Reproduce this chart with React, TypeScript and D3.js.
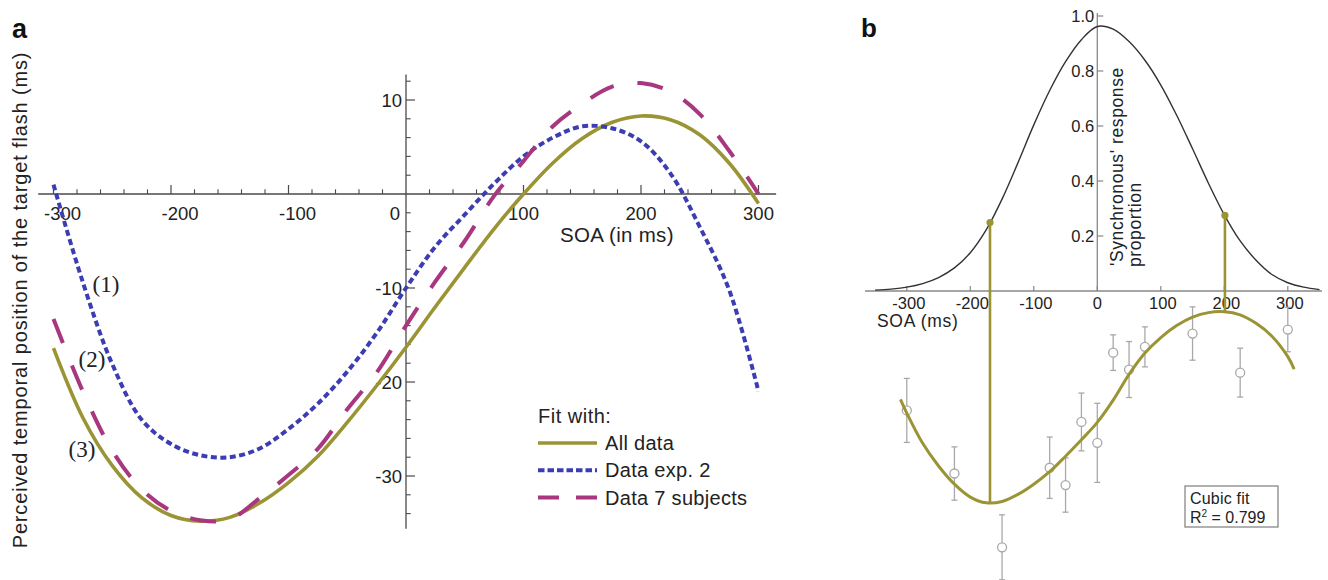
import React from 'react';
import * as d3 from 'd3';

// ---------- Panel a data ----------
const soaA = [-300, -275, -250, -225, -200, -175, -150, -125, -100, -75, -50, -25, 0, 25, 50, 75, 100, 125, 150, 175, 200, 225, 250, 275, 300];
const allData = [-16.4, -23.8, -28.9, -32.3, -34.2, -34.8, -34.4, -32.9, -30.7, -27.9, -24.3, -20.4, -16.3, -12.0, -7.8, -3.7, 0, 3.3, 5.9, 7.6, 8.3, 7.9, 6.3, 3.3, -1.0];
const dataExp2 = [1.0, -9.4, -18.1, -24.0, -26.6, -27.8, -28.0, -27.1, -25.0, -22.3, -18.9, -14.8, -10.0, -5.6, -2.2, 1.1, 4.0, 6.0, 7.2, 7.0, 5.6, 2.2, -3.5, -10.2, -21.0];
const data7Subjects = [-13.3, -21.0, -27.3, -31.4, -33.7, -34.7, -34.6, -32.4, -29.9, -27.1, -22.9, -19.0, -14.0, -9.3, -5.0, -0.2, 3.5, 7.2, 9.6, 11.4, 11.8, 10.9, 8.5, 4.6, 0.0];
const xTickLabelsA = [-300, -200, -100, 100, 200, 300];
const yTickLabelsA = [10, -10, -20, -30];
const legendLabels = ['All data', 'Data exp. 2', 'Data 7 subjects'];
const curveTags = ['(1)', '(2)', '(3)'];

// ---------- Panel b data ----------
const soaGauss = [-350, -325, -300, -275, -250, -225, -200, -175, -150, -125, -100, -75, -50, -25, 0, 25, 50, 75, 100, 125, 150, 175, 200, 225, 250, 275, 300, 325, 350];
const syncProportion = [0.003, 0.007, 0.014, 0.027, 0.049, 0.084, 0.139, 0.222, 0.334, 0.466, 0.604, 0.729, 0.834, 0.914, 0.962, 0.952, 0.907, 0.839, 0.749, 0.639, 0.517, 0.392, 0.277, 0.182, 0.112, 0.060, 0.030, 0.014, 0.005];
const soaFit = [-310, -300, -275, -250, -225, -200, -175, -150, -125, -100, -75, -50, -25, 0, 25, 50, 75, 100, 125, 150, 175, 200, 225, 250, 275, 300, 310];
const cubicFit = [-11.4, -14.5, -21.3, -26.4, -30.5, -33.4, -34.7, -34.4, -32.8, -30.5, -27.7, -24.2, -20.5, -16.6, -11.6, -5.8, -1.0, 2.5, 5.2, 7.1, 8.1, 8.3, 7.6, 5.7, 2.8, -1.8, -4.6];
const pointSOA = [-300, -225, -150, -75, -50, -25, 0, 25, 50, 75, 150, 225, 300];
const pointMean = [-13.9, -28.1, -44.7, -26.8, -30.7, -16.5, -21.2, -0.9, -4.7, 0.4, 3.4, -5.4, 4.3];
const pointErr = [7.2, 6.0, 7.3, 6.9, 6.1, 6.5, 8.9, 4.0, 6.3, 4.5, 6.0, 5.5, 5.0];
const markerSOA = [-169, 201];
const markerProportion = [0.249, 0.275];
const markerFit = [-34.8, 8.3];
const xTickLabelsB = [-300, -200, -100, 0, 100, 200, 300];
const yTickLabelsB = [0.2, 0.4, 0.6, 0.8, 1.0];

const OLIVE = '#9a9434';
const BLUE = '#3c3db3';
const MAGENTA = '#a8377f';
const AXIS = '#4a4a4a';
const SANS = '"Liberation Sans", Arial, Helvetica, sans-serif';
const SERIF = '"Liberation Serif", "Times New Roman", serif';

export default function App() {
  // Panel a scales
  const xA = d3.scaleLinear().domain([-300, 300]).range([53.5, 758.5]);
  const yA = d3.scaleLinear().domain([-30, 10]).range([476, 100]);
  const lineA = d3
    .line<[number, number]>()
    .x((d) => xA(d[0]))
    .y((d) => yA(d[1]))
    .curve(d3.curveCatmullRom.alpha(0.5));
  const series = [
    { vals: allData, color: OLIVE, dash: undefined as string | undefined, legendDash: undefined as string | undefined, width: 3.6 },
    { vals: dataExp2, color: BLUE, dash: '6 3.5', legendDash: '6.5 3', width: 4 },
    { vals: data7Subjects, color: MAGENTA, dash: '26 24', legendDash: '21 17', width: 4 },
  ];
  const x0 = xA(0);
  const y0 = yA(0);
  const xMinorA = d3.range(-300, 301, 20).filter((v) => v % 100 !== 0);
  const yMinorA = d3.range(-34, 13, 2).filter((v) => v % 10 !== 0);

  // Panel b scales
  const xB = d3.scaleLinear().domain([-300, 300]).range([906.8, 1287.8]);
  const yG = d3.scaleLinear().domain([0, 1]).range([291, 16]);
  const yF = d3.scaleLinear().domain([-40, 10]).range([526.4, 304.2]);
  const gaussLine = d3
    .line<number>()
    .x((_, i) => xB(soaGauss[i]))
    .y((d) => yG(d))
    .curve(d3.curveCatmullRom.alpha(0.5));
  const fitLine = d3
    .line<number>()
    .x((_, i) => xB(soaFit[i]))
    .y((d) => yF(d))
    .curve(d3.curveCatmullRom.alpha(0.5));
  const xb0 = xB(0);

  const tickFont = { fontFamily: SANS, fontSize: 18.5, fill: '#222' };

  return (
    <svg width={1328} height={580} style={{ position: 'absolute', left: 0, top: 0, background: '#fff' }}>
      <rect x={0} y={0} width={1328} height={580} fill="#fff" />
      {/* ================= Panel a ================= */}
      <text x={12} y={38} fontFamily={SANS} fontWeight="bold" fontSize={27} fill="#111">a</text>

      {/* axes */}
      <line x1={xA(-313)} x2={xA(315)} y1={y0} y2={y0} stroke={AXIS} strokeWidth={1.3} />
      <line x1={x0} x2={x0} y1={yA(12.7)} y2={yA(-35.6)} stroke={AXIS} strokeWidth={1.3} />
      {xTickLabelsA.map((v) => (
        <line key={'xM' + v} x1={xA(v)} x2={xA(v)} y1={y0} y2={y0 - 9} stroke={AXIS} strokeWidth={1.2} />
      ))}
      {xMinorA.map((v) => (
        <line key={'xm' + v} x1={xA(v)} x2={xA(v)} y1={y0} y2={y0 - 4.7} stroke={AXIS} strokeWidth={1.1} />
      ))}
      {yTickLabelsA.map((v) => (
        <line key={'yM' + v} x1={x0} x2={x0 + 9} y1={yA(v)} y2={yA(v)} stroke={AXIS} strokeWidth={1.2} />
      ))}
      {yMinorA.map((v) => (
        <line key={'ym' + v} x1={x0} x2={x0 + 4.7} y1={yA(v)} y2={yA(v)} stroke={AXIS} strokeWidth={1.1} />
      ))}
      {xTickLabelsA.map((v) => (
        <text key={'xl' + v} x={xA(v) + (v < 0 ? 9 : 0)} y={219.5} textAnchor="middle" {...tickFont}>
          {v < 0 ? '-' + Math.abs(v) : String(v)}
        </text>
      ))}
      <text x={x0 - 6} y={219.5} textAnchor="end" {...tickFont}>0</text>
      {yTickLabelsA.map((v) => (
        <text key={'yl' + v} x={x0 - 4} y={yA(v) + 6.5} textAnchor="end" {...tickFont}>
          {v < 0 ? '-' + Math.abs(v) : String(v)}
        </text>
      ))}
      <text x={560} y={242} fontFamily={SANS} fontSize={20.5} letterSpacing={0.3} fill="#222">SOA (in ms)</text>
      <text
        transform={`translate(27, 300) rotate(-90)`}
        textAnchor="middle"
        fontFamily={SANS}
        fontSize={20}
        letterSpacing={0.85}
        fill="#222"
      >
        Perceived temporal position of the target flash (ms)
      </text>

      {/* curves */}
      {series.map((s, i) => (
        <path
          key={'s' + i}
          d={lineA(soaA.map((x, j) => [x, s.vals[j]] as [number, number])) || ''}
          fill="none"
          stroke={s.color}
          strokeWidth={s.width}
          strokeDasharray={s.dash}
        />
      ))}
      {/* curve tags */}
      <text x={106} y={292} textAnchor="middle" fontFamily={SERIF} fontSize={23} fill="#222">{curveTags[0]}</text>
      <text x={92} y={367} textAnchor="middle" fontFamily={SERIF} fontSize={23} fill="#222">{curveTags[1]}</text>
      <text x={82} y={457} textAnchor="middle" fontFamily={SERIF} fontSize={23} fill="#222">{curveTags[2]}</text>

      {/* legend */}
      <text x={538} y={423} fontFamily={SANS} fontSize={20} letterSpacing={0.5} fill="#222">Fit with:</text>
      {series.map((s, i) => {
        const cy = 443 + i * 27.3;
        return (
          <g key={'lg' + i}>
            <line x1={538} x2={597} y1={cy} y2={cy} stroke={s.color} strokeWidth={s.width} strokeDasharray={s.legendDash} />
            <text x={605} y={cy + 7} fontFamily={SANS} fontSize={20} letterSpacing={0.3} fill="#222">
              {legendLabels[i]}
            </text>
          </g>
        );
      })}

      {/* ================= Panel b ================= */}
      <text x={861} y={37} fontFamily={SANS} fontWeight="bold" fontSize={26} fill="#111">b</text>

      {/* axes */}
      <line x1={865} x2={1322} y1={yG(0)} y2={yG(0)} stroke="#888" strokeWidth={1.3} />
      <line x1={xb0} x2={xb0} y1={13} y2={yG(0)} stroke="#888" strokeWidth={1.3} />
      {xTickLabelsB.map((v) => (
        <g key={'bx' + v}>
          <line x1={xB(v)} x2={xB(v)} y1={yG(0)} y2={yG(0) - 5} stroke="#888" strokeWidth={1.2} />
          <text x={xB(v) + (v === 0 ? 0 : 2)} y={308.5} textAnchor="middle" fontFamily={SANS} fontSize={16.5} fill="#222">
            {v < 0 ? '-' + Math.abs(v) : String(v)}
          </text>
        </g>
      ))}
      {yTickLabelsB.map((v) => (
        <g key={'by' + v}>
          <line x1={xb0} x2={xb0 + 6} y1={yG(v)} y2={yG(v)} stroke="#888" strokeWidth={1.2} />
          <text x={xb0 - 3} y={yG(v) + 6} textAnchor="end" fontFamily={SANS} fontSize={16.5} fill="#222">
            {v.toFixed(1)}
          </text>
        </g>
      ))}
      <text transform="translate(1123, 266) rotate(-90)" fontFamily={SANS} fontSize={17.5} letterSpacing={0.6} fill="#222">
        'Synchronous' response
      </text>
      <text transform="translate(1141, 267) rotate(-90)" fontFamily={SANS} fontSize={17.5} letterSpacing={0.6} fill="#222">
        proportion
      </text>
      <text x={877} y={327} fontFamily={SANS} fontSize={17.5} letterSpacing={0.7} fill="#222">SOA (ms)</text>

      {/* gaussian */}
      <path d={gaussLine(syncProportion) || ''} fill="none" stroke="#333" strokeWidth={1.4} />

      {/* error bars & points */}
      {pointSOA.map((x, i) => {
        const cx = xB(x);
        const top = yF(pointMean[i] + pointErr[i]);
        const bot = yF(pointMean[i] - pointErr[i]);
        const cy = yF(pointMean[i]);
        return (
          <g key={'pt' + i} stroke="#a8a8a8" strokeWidth={1.3} fill="none">
            <line x1={cx} x2={cx} y1={top} y2={cy - 4.5} />
            <line x1={cx} x2={cx} y1={cy + 4.5} y2={bot} />
            <line x1={cx - 3} x2={cx + 3} y1={top} y2={top} />
            <line x1={cx - 3} x2={cx + 3} y1={bot} y2={bot} />
            <circle cx={cx} cy={cy} r={4.5} />
          </g>
        );
      })}

      {/* cubic fit */}
      <path d={fitLine(cubicFit) || ''} fill="none" stroke={OLIVE} strokeWidth={3} />
      {markerSOA.map((x, i) => (
        <g key={'mk' + i}>
          <line x1={xB(x)} x2={xB(x)} y1={yG(markerProportion[i])} y2={yF(markerFit[i])} stroke={OLIVE} strokeWidth={2.6} />
          <circle cx={xB(x)} cy={yG(markerProportion[i])} r={3.6} fill={OLIVE} />
        </g>
      ))}

      {/* cubic fit box */}
      <rect x={1185} y={486} width={93} height={41} fill="#fff" stroke="#888" strokeWidth={1.3} />
      <text x={1190} y={504} fontFamily={SANS} fontSize={16} letterSpacing={0.2} fill="#222">Cubic fit</text>
      <text x={1190} y={523} fontFamily={SANS} fontSize={16} fill="#222">
        R<tspan dy={-6} fontSize={10}>2</tspan>
        <tspan dy={6}> = 0.799</tspan>
      </text>
    </svg>
  );
}
